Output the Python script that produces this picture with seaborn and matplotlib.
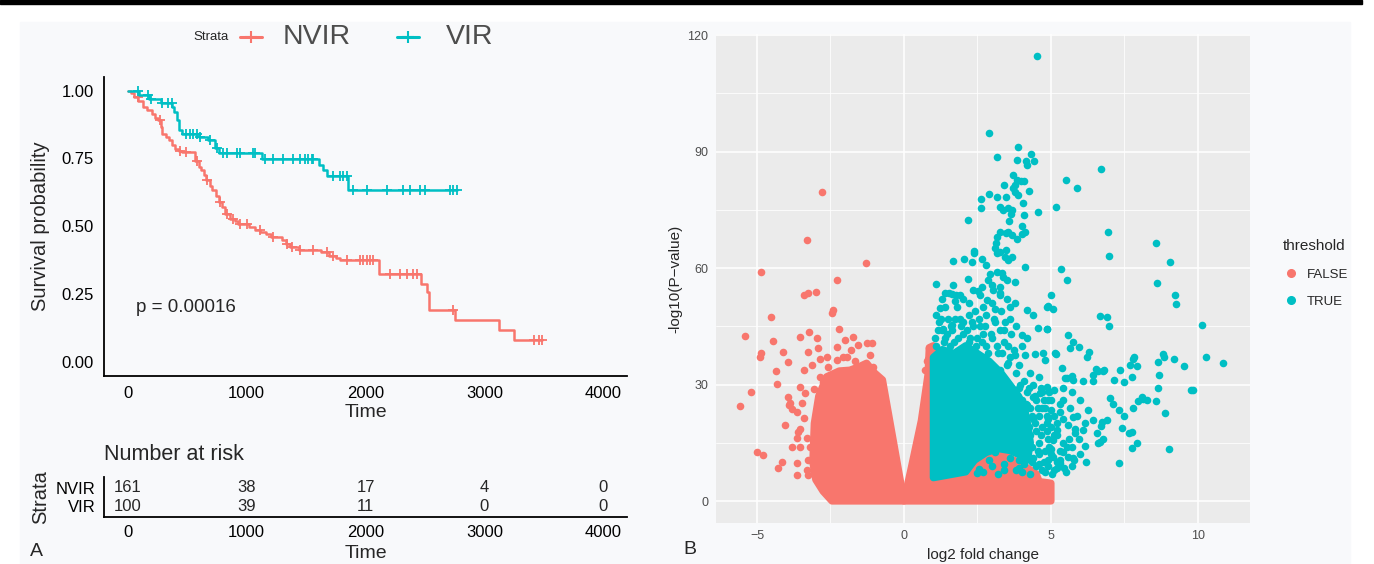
import numpy as np
import pandas as pd
import matplotlib
matplotlib.use("Agg")
import matplotlib.pyplot as plt
import seaborn as sns
from matplotlib.lines import Line2D
from matplotlib.patches import Rectangle

sns.set_style("white")
plt.rcParams['font.family'] = ['Liberation Sans', 'DejaVu Sans']

RED = "#F8766D"
TEAL = "#00BFC4"

# ---------------- KM data ----------------
nvir_time = [0, 30, 55, 90, 128, 165, 200, 230, 255, 280, 292, 320, 347, 375, 400, 430, 456,
             566, 600, 620, 640, 657, 690, 712, 740, 766, 790, 821, 858, 900, 931, 1022, 1070,
             1113, 1160, 1204, 1296, 1330, 1369, 1442, 1624, 1697, 1750, 1788, 2117, 2464,
             2518, 2536, 2755, 3120, 3248, 3485]
nvir_surv = [1.0, 0.99, 0.975, 0.96, 0.94, 0.93, 0.915, 0.90, 0.89, 0.865, 0.84, 0.83, 0.816,
             0.80, 0.785, 0.778, 0.773, 0.742, 0.72, 0.706, 0.69, 0.669, 0.65, 0.632, 0.61, 0.589,
             0.57, 0.546, 0.528, 0.518, 0.509, 0.497, 0.488, 0.479, 0.47, 0.46, 0.448, 0.435,
             0.423, 0.411, 0.405, 0.39, 0.382, 0.374, 0.325, 0.288, 0.258, 0.19, 0.153, 0.117,
             0.08, 0.08]
nvir_cens = [86, 269, 438, 494, 579, 663, 775, 831, 887, 943, 1000, 1112, 1224, 1336, 1378,
             1448, 1561, 1673, 1729, 1842, 1954, 1982, 2010, 2038, 2066, 2206, 2290, 2347, 2403,
             2431, 2740, 3420, 3460, 3485]

vir_time = [0, 95, 180, 280, 370, 390, 410, 430, 455, 600, 675, 730, 766, 1131, 1606, 1642,
            1679, 1850, 2768]
vir_surv = [1.0, 0.985, 0.97, 0.955, 0.94, 0.92, 0.89, 0.855, 0.84, 0.83, 0.816, 0.79, 0.77,
            0.748, 0.724, 0.706, 0.687, 0.632, 0.632]
vir_cens = [86, 171, 199, 290, 339, 368, 494, 520, 550, 580, 606, 691, 747, 803, 831, 915, 943,
            1056, 1070, 1154, 1224, 1308, 1393, 1448, 1491, 1519, 1547, 1561, 1729, 1785, 1813,
            1842, 1898, 2010, 2179, 2319, 2375, 2459, 2501, 2712, 2740, 2768]

risk_times = [0, 1000, 2000, 3000, 4000]
nvir_risk = [161, 38, 17, 4, 0]
vir_risk = [100, 39, 11, 0, 0]
strata = ["NVIR", "VIR"]

# ---------------- volcano data ----------------
# outlines of the solid, over-plotted clouds
left_cloud_x = [0.0, -0.35, -0.73, -1.0, -1.27, -1.55, -1.84, -2.2, -2.63, -2.9, -3.05, -3.1, -3.0, -2.75, -2.45]
left_cloud_y = [0.0, 15, 31.2, 33, 35.5, 34.5, 33.7, 33.5, 32.0, 27, 20, 10, 5.5, 2.5, 0.0]

right_red_x = [0.0, 5.0, 5.0, 4.6, 4.5, 4.2, 3.9, 3.6, 3.2, 2.8, 2.4, 2.1, 1.0, 1.0, 0.86, 0.82, 0.59, 0.25]
right_red_y = [0.0, 0.0, 4.6, 5.0, 7.0, 8.5, 10, 11, 12, 11, 9, 6.8, 5.6, 40, 39.5, 32.7, 20.7, 8.6]

teal_core_x = [1.0, 1.0, 1.3, 1.7, 2.1, 2.5, 2.9, 3.3, 3.6, 3.9, 4.1, 4.2, 4.3, 4.2, 3.9, 3.6, 3.2, 2.8, 2.4, 2.1]
teal_core_y = [6.0, 37, 39, 38, 40, 38, 36, 33, 30, 27, 24, 20, 15, 10.5, 12, 13, 13.5, 12.5, 10.5, 7.5]

red_x = [-2.79, -3.31, -1.30, -4.86, -2.27, -3.25, -3.40, -3.0, -2.42, -2.46, -4.52, -2.20, -5.39,
         -4.47, -3.53, -3.23, -2.95, -2.92, -3.25, -2.86, -3.14, -3.40, -4.85, -4.90, -4.10, -3.95,
         -4.34, -4.33, -5.21, -5.59, -3.54, -3.37, -3.48, -3.88, -3.93, -3.65, -4.05, -3.82, -3.59,
         -3.31, -3.65, -3.31, -3.25, -3.2, -2.97, -5.0, -4.8, -4.27, -4.16, -3.63, -3.25, -2.29,
         -2.29, -2.01, -1.72, -1.95, -1.27, -1.16, -1.27, -1.04, -0.87, -1.04, -2.63, -2.58, -2.86,
         -2.47, -1.09, -1.58, -1.81, -2.08, -1.68, -3.06, -2.76, -3.55, -3.64, -3.52, -3.4, -3.82,
         -3.92, 0.86, 0.82, 0.78, 0.71, 2.2, 2.37, 2.6, 2.82, 2.97, 3.17, 3.68, 3.88, 4.03, 3.8,
         3.3, 3.5]
red_y = [79.6, 67.3, 61.2, 59.1, 56.8, 53.5, 53.0, 53.8, 49.3, 48.5, 47.5, 44.3, 42.5, 41.2, 42.3,
         43.4, 41.9, 39.3, 38.5, 36.7, 35.0, 33.7, 38.0, 37.2, 38.3, 35.8, 33.4, 30.2, 28.1, 24.4,
         29.4, 27.7, 25.2, 25.2, 26.9, 23.0, 19.6, 14.0, 17.9, 16.1, 9.7, 8.0, 10.6, 14.0, 17.4,
         12.7, 11.8, 8.4, 10.1, 6.7, 6.7, 39.7, 36.3, 41.5, 42.3, 37.2, 40.6, 37.6, 33.7, 34.6,
         30.3, 32.0, 37.2, 34.6, 32.0, 32.0, 40.6, 40.3, 38.9, 37.1, 36.1, 28.8, 30.6, 18.6, 16.3,
         14.0, 21.4, 23.8, 24.6, 39.5, 36.5, 36.0, 33.7, 8.4, 9.3, 10.7, 12.1, 13.0, 13.5, 18.6,
         15.3, 10.7, 9.8, 11.0, 12.5]

teal_x = [4.54, 2.90, 3.88, 3.18, 4.31, 3.83, 4.15, 4.17, 4.44, 6.69, 3.72, 3.83, 3.97, 4.08, 3.40,
          5.50, 5.90, 3.72, 3.78, 3.89, 3.78, 4.24, 2.90, 2.62, 3.17, 3.47, 2.62, 3.27, 3.38, 3.55,
          3.68, 3.63, 4.06, 4.08, 4.55, 5.16, 2.17, 3.57, 4.0, 4.11, 4.02, 3.27, 3.15, 3.55, 3.66,
          3.83, 3.47, 3.14, 3.09, 3.15, 3.27, 3.47, 3.45, 3.66, 3.55, 2.38, 2.38, 2.05, 1.68, 2.30,
          2.64, 2.78, 4.12, 5.33, 5.56, 2.93, 2.87, 2.98, 3.15, 3.32, 3.38, 3.49, 3.78, 3.27, 3.04,
          3.27, 2.17, 1.09, 1.66, 1.54, 1.77, 2.36, 2.64, 2.53, 5.0,
          6.93, 8.57, 6.98, 9.04, 8.60, 9.22, 9.25, 4.91, 5.08, 6.67, 6.90, 6.99, 10.14, 4.87,
          1.40, 2.81, 3.27, 1.22, 3.78, 4.17, 4.40, 4.85, 4.57, 4.85, 4.0, 1.34, 1.62, 5.59, 5.76,
          5.65, 5.14, 4.8, 4.46, 4.12, 3.78, 3.55, 3.27, 3.04, 5.36, 5.53, 5.76, 4.85, 4.63, 4.40,
          4.17, 3.95, 5.42, 5.65, 5.76, 5.59, 5.82, 5.53, 5.76, 5.31, 5.08, 4.85, 5.19,
          5.96, 6.30, 6.21, 5.16, 4.74, 7.83, 7.69, 7.35, 7.74, 7.14, 7.49, 8.82, 8.63, 9.19, 9.53,
          10.26, 10.86, 5.48, 5.70, 6.08, 6.42, 6.53, 6.78, 6.44, 8.65, 9.76, 7.01, 7.10, 7.31,
          7.80, 7.97, 8.12, 8.56, 8.88, 7.40, 7.66, 7.75, 7.74, 7.93, 9.01, 7.30, 6.89, 6.70, 6.56,
          6.78, 6.59, 6.44, 6.27, 6.16, 6.08, 5.82, 5.96, 6.16, 5.59, 5.78, 5.44, 5.31, 5.08, 9.84,
          8.26, 8.68, 8.86, 7.80, 7.91, 6.82, 6.60, 6.75, 6.67, 8.10, 7.5,
          3.7, 3.9, 4.0, 4.2, 4.3, 4.5, 4.1, 3.8, 4.4, 4.6, 4.8, 4.9, 5.0, 4.7, 4.5, 4.3, 4.6, 4.9,
          5.1, 4.8, 5.0, 4.6, 4.4, 4.2, 4.5, 4.7, 4.9, 5.1, 4.3, 4.0, 3.8, 4.1, 3.9, 5.2, 5.3, 5.4,
          5.2, 5.3, 5.0, 4.7, 4.4, 4.1, 3.8, 3.5, 3.2, 2.8, 3.6, 3.9, 4.3, 4.6, 2.6, 2.3, 1.9, 1.5,
          1.2, 1.8, 2.4, 2.8, 3.1, 3.4, 3.0, 3.3, 3.6, 3.5, 3.8, 4.0, 4.2, 3.4, 1.1, 1.4, 1.7, 2.0,
          2.2, 2.5, 1.3, 1.6, 2.0, 2.2, 2.7, 3.0, 1.1, 1.4, 2.0, 2.6, 1.64, 1.72,
          4.7, 4.9, 5.1, 5.3, 5.0, 5.4, 5.2, 5.0, 5.4, 5.6, 5.7, 4.9, 5.2, 5.5, 5.7, 6.0, 6.2, 5.9,
          6.0, 5.7, 5.4, 5.1, 2.7, 3.0, 3.4, 3.6, 3.2, 2.5,
          1.05, 1.15, 1.25, 1.35, 1.45, 1.55, 1.65, 1.75, 1.85, 1.95, 2.05, 2.15, 2.25, 2.35, 2.45,
          2.55, 2.65, 2.75, 2.85, 2.95, 3.05, 3.15, 3.25, 3.35, 3.45, 3.55, 3.65, 3.75, 1.3, 1.9,
          2.2, 2.7, 3.1, 3.6,
          3.65, 3.75, 3.85, 3.95, 4.05, 4.15, 4.25, 4.35, 4.45, 4.55, 4.65, 4.75, 4.85, 4.95, 4.05,
          4.25, 4.45, 4.65, 4.85, 4.15, 4.35, 4.55, 4.75, 4.95, 4.35, 4.6, 5.05, 4.8,
          2.9, 3.4, 3.9, 2.55, 3.1]
teal_y = [114.7, 94.8, 91.2, 88.6, 89.4, 87.8, 87.6, 86.5, 87.6, 85.6, 84.0, 82.8, 82.5, 82.5, 81.4,
          82.6, 80.5, 80.5, 79.6, 78.8, 81.3, 79.9, 79.1, 77.8, 78.2, 78.4, 75.5, 75.6, 74.9, 75.4,
          74.9, 73.9, 76.7, 73.6, 74.4, 75.6, 72.4, 72.2, 70.7, 69.4, 68.7, 69.4, 68.1, 69.4, 68.5,
          67.6, 69.0, 66.4, 65.1, 63.8, 64.2, 64.6, 62.9, 62.9, 62.1, 64.5, 63.8, 62.2, 61.9, 61.6,
          62.2, 60.8, 60.3, 59.8, 56.8, 58.5, 56.9, 55.6, 59.1, 58.8, 57.8, 56.9, 56.5, 55.2, 54.3,
          53.5, 57.3, 56.0, 55.6, 53.5, 53.1, 54.3, 55.2, 54.0, 53.1,
          69.3, 66.4, 63.2, 61.5, 56.2, 53.1, 50.7, 50.2, 49.4, 47.6, 47.3, 45.2, 45.4, 44.2,
          53.5, 51.8, 53.0, 49.6, 50.9, 49.2, 47.9, 50.0, 44.5, 44.3, 42.7, 44.4, 45.3, 42.7, 41.0,
          39.3, 38.0, 36.3, 37.9, 37.6, 37.6, 35.5, 33.7, 32.9, 34.2, 31.6, 31.2, 29.4, 27.7, 26.9,
          24.7, 25.1, 26.0, 23.9, 21.7, 19.6, 17.4, 14.0, 11.0, 10.6, 15.7, 20.0, 18.3,
          39.7, 38.4, 37.0, 37.8, 38.0, 37.2, 35.0, 33.7, 32.0, 31.2, 30.6, 37.8, 35.9, 36.6, 34.8,
          37.1, 35.5, 31.6, 32.2, 31.0, 30.9, 33.9, 33.6, 32.4, 29.2, 28.7, 26.6, 25.0, 23.4,
          23.9, 25.8, 26.3, 25.7, 22.7, 18.8, 17.4, 17.9, 13.6, 15.0, 13.3, 9.7, 20.9, 19.3, 17.4,
          15.9, 15.0, 20.9, 23.4, 20.2, 18.3, 18.5, 15.9, 14.2, 11.4, 10.6, 8.4, 9.9, 11.4, 28.5,
          26.0, 32.4, 37.1, 36.6, 34.8, 33.8, 33.4, 20.4, 15.3, 26.9, 22.0,
          27, 29, 26, 28, 24, 26, 23, 22, 21, 22, 24, 21, 19, 19, 18, 17, 15, 16,
          17, 13, 12, 12, 11, 12, 9, 8, 9, 8, 7, 7.5, 8, 9.5, 10.5, 10, 13, 15,
          20, 23, 26, 28, 30, 31, 33, 35, 38, 40, 37, 35, 33, 32, 45, 46, 47, 47,
          46, 50, 49, 48, 46, 44, 51, 49, 47, 52, 45, 40, 42, 41, 40, 42, 41, 43,
          41, 42, 44, 45, 46, 48, 43, 42, 48, 50, 52, 53, 53.2, 51.4,
          24, 26, 22, 25, 23.5, 21, 17, 13.5, 12.5, 16, 14, 10.5, 8.5, 7.5, 9, 12, 10, 22,
          26, 28, 29, 28.5, 7.5, 9, 8, 11, 7, 7.2,
          42, 44, 47, 41, 43, 40, 44, 47, 42, 45, 39, 44, 42, 45, 40,
          47, 41, 45, 38, 43, 47, 40, 44, 38, 46, 40, 43, 39, 52, 53,
          51, 50, 49.5, 50,
          29, 24, 27, 30, 22, 25, 29, 22, 27, 24, 29, 26, 22, 28, 18,
          19, 20, 17, 18, 15, 14, 13, 10, 14, 10, 9.5, 7, 7.5,
          10.5, 9.5, 8.5, 8.2, 12.5]


def surv_at(times, step_t, step_s):
    idx = np.searchsorted(step_t, times, side="right") - 1
    return np.array(step_s)[idx]


fig = plt.figure(figsize=(13.74, 5.64), dpi=100)
W, H = 1374, 564

# faint page tint + top rule
fig.patches.append(Rectangle((20 / W, 0), 1330 / W, 1 - 22 / H, transform=fig.transFigure,
                             color="#f8f9fb", zorder=-10))
fig.patches.append(Rectangle((0, 1 - 4 / H), 1362 / W, 4 / H, transform=fig.transFigure,
                             color="black", zorder=5))

# ---------------- A: survival curves ----------------
ax = fig.add_axes([104 / W, 1 - 375.5 / H, 523 / W, 298.5 / H])
ax.set_facecolor("none")
sns.lineplot(x=nvir_time, y=nvir_surv, ax=ax, color=RED, lw=1.8, drawstyle="steps-post",
             estimator=None, sort=False)
sns.lineplot(x=vir_time, y=vir_surv, ax=ax, color=TEAL, lw=1.8, drawstyle="steps-post",
             estimator=None, sort=False)
sns.scatterplot(x=nvir_cens, y=surv_at(nvir_cens, nvir_time, nvir_surv), ax=ax, marker="+",
                s=55, color=RED, linewidth=1.3)
sns.scatterplot(x=vir_cens, y=surv_at(vir_cens, vir_time, vir_surv), ax=ax, marker="+",
                s=55, color=TEAL, linewidth=1.3)
ax.set_xlim(-200, 4200)
ax.set_ylim(-0.05, 1.05)
ax.set_xticks(risk_times)
ax.set_yticks([0, 0.25, 0.5, 0.75, 1.0])
ax.set_yticklabels(["0.00", "0.25", "0.50", "0.75", "1.00"])
ax.tick_params(labelsize=12, length=4, width=1, colors="black")
ax.set_xlabel("Time", fontsize=14, labelpad=2)
ax.set_ylabel("Survival probability", fontsize=14.5, labelpad=8)
for s in ["top", "right"]:
    ax.spines[s].set_visible(False)
for s in ["left", "bottom"]:
    ax.spines[s].set_linewidth(1.3)
    ax.spines[s].set_color("black")
ax.text(67, 0.2, "p = 0.00016", fontsize=13.5, va="center", ha="left")

# legend on top
fig.text(193 / W, 1 - 37 / H, "Strata", fontsize=9.5, va="center", ha="left")
for x0, x1, col, lab, tx in [(240, 262, RED, "NVIR", 283), (397, 419, TEAL, "VIR", 446)]:
    y0 = 1 - 37 / H
    fig.add_artist(Line2D([x0 / W, x1 / W], [y0, y0], color=col, lw=2.2, transform=fig.transFigure))
    fig.add_artist(Line2D([(x0 + x1) / 2 / W], [y0], color=col, marker="+", ms=8, mew=1.5,
                          transform=fig.transFigure))
    fig.text(tx / W, y0, lab, fontsize=20.5, color="#4d4d4d", va="center", ha="left")

# risk table
axt = fig.add_axes([104 / W, 1 - 517 / H, 523 / W, 40 / H])
axt.set_facecolor("none")
axt.set_xlim(-200, 4200)
axt.set_ylim(-0.61, 1.61)
for t, a, b in zip(risk_times, nvir_risk, vir_risk):
    axt.text(t, 1, str(a), ha="center", va="center", fontsize=12)
    axt.text(t, 0, str(b), ha="center", va="center", fontsize=12)
axt.set_xticks(risk_times)
axt.set_yticks([1, 0])
axt.set_yticklabels(strata)
axt.tick_params(labelsize=12, length=4, width=1, colors="black", pad=2)
axt.set_xlabel("Time", fontsize=14, labelpad=3)
axt.set_ylabel("Strata", fontsize=14.5, labelpad=4)
for s in ["top", "right"]:
    axt.spines[s].set_visible(False)
for s in ["left", "bottom"]:
    axt.spines[s].set_linewidth(1.3)
    axt.spines[s].set_color("black")
fig.text(104 / W, 1 - 454 / H, "Number at risk", fontsize=15.5, va="center", ha="left")
fig.text(30 / W, 1 - 551 / H, "A", fontsize=14, va="center", ha="left")

# ---------------- B: volcano plot ----------------
axv = fig.add_axes([715.5 / W, 1 - 523.3 / H, 534.5 / W, 489.8 / H])
axv.set_facecolor("#EBEBEB")
axv.set_axisbelow(True)
for s in axv.spines.values():
    s.set_visible(False)
axv.set_xlim(-6.41, 11.77)
axv.set_ylim(-5.74, 120.4)
axv.set_xticks([-5, 0, 5, 10])
axv.set_yticks([0, 30, 60, 90, 120])
axv.set_xticks([-2.5, 2.5, 7.5], minor=True)
axv.set_yticks([15, 45, 75, 105], minor=True)
axv.grid(which="major", color="white", lw=1.1)
axv.grid(which="minor", color="white", lw=0.55)
axv.tick_params(which="major", labelsize=9, length=3, width=1, colors="#333333",
                labelcolor="#4d4d4d", pad=2)
axv.tick_params(which="minor", length=0)

pt_lw = 5.2
axv.fill(left_cloud_x, left_cloud_y, color=RED, lw=pt_lw, joinstyle="round", zorder=2)
axv.fill(right_red_x, right_red_y, color=RED, lw=pt_lw, joinstyle="round", zorder=2)
axv.fill(teal_core_x, teal_core_y, color=TEAL, lw=pt_lw, joinstyle="round", zorder=3)

df_red = pd.DataFrame({"x": red_x, "y": red_y, "threshold": "FALSE"})
df_teal = pd.DataFrame({"x": teal_x, "y": teal_y, "threshold": "TRUE"})
sns.scatterplot(data=df_red, x="x", y="y", color=RED, s=30, linewidth=0, ax=axv, zorder=2.5)
sns.scatterplot(data=df_teal, x="x", y="y", color=TEAL, s=30, linewidth=0, ax=axv, zorder=4)
axv.set_xlabel("log2 fold change", fontsize=11, labelpad=4)
axv.set_ylabel("-log10(P\u2212value)", fontsize=11, labelpad=4)

handles = [Line2D([], [], marker="o", ls="", color=RED, ms=5.5),
           Line2D([], [], marker="o", ls="", color=TEAL, ms=5.5)]
leg = axv.legend(handles, ["FALSE", "TRUE"], title="threshold", loc="center left",
                 bbox_to_anchor=(1.04, 0.51), frameon=False, fontsize=9.5, title_fontsize=11,
                 handletextpad=0.6, labelspacing=1.15, handlelength=1.2)
leg._legend_box.align = "left"
fig.text(683 / W, 1 - 549 / H, "B", fontsize=14, va="center", ha="left")

fig.savefig("out.png", dpi=100)
